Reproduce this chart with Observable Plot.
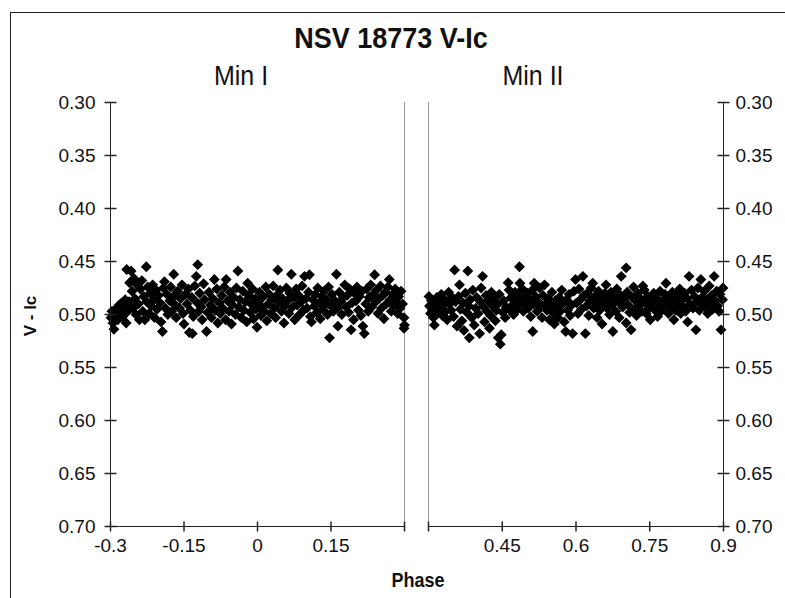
<!DOCTYPE html>
<html>
<head>
<meta charset="utf-8">
<script src="https://cdn.jsdelivr.net/npm/d3@7"></script>
<script src="https://cdn.jsdelivr.net/npm/@observablehq/plot@0.6"></script>
<style>
  html, body { margin: 0; padding: 0; background: #fff; }
  #wrap { position: relative; width: 785px; height: 598px; overflow: hidden; background: #fff;
          font-family: "Liberation Sans", Arial, sans-serif; color: #111; }
  #frame { position: absolute; left: 10px; top: 12px; width: 900px; height: 700px; border: 1px solid #222; box-sizing: border-box; }
  .t { position: absolute; white-space: nowrap; transform: translate(-50%, -50%) scaleY(1.12); line-height: 1; }
  .plot { position: absolute; top: 0; }
</style>
</head>
<body>
<div id="wrap">
  <div id="frame"></div>
  <div class="t" style="left:391px; top:38px; font-size:27px; font-weight:bold;">NSV 18773 V-Ic</div>
  <div class="t" style="left:241px; top:75px; font-size:25px;">Min I</div>
  <div class="t" style="left:533px; top:75px; font-size:25px;">Min II</div>
  <div class="t" style="left:418px; top:580px; font-size:18px; font-weight:bold;">Phase</div>
  <div class="t" style="left:30px; top:316px; font-size:17px; font-weight:bold; transform: translate(-50%, -50%) rotate(-90deg);">V - Ic</div>
  <div id="left" class="plot" style="left:0px;"></div>
  <div id="right" class="plot" style="left:412px;"></div>
</div>
<script>
// ---- tick values and labels ----
const yTicks = [0.30, 0.35, 0.40, 0.45, 0.50, 0.55, 0.60, 0.65, 0.70];
const minIxTicks = [-0.3, -0.15, 0, 0.15, 0.3];
const minIxLabels = ["-0.3", "-0.15", "0", "0.15", ""];
const minIIxTicks = [0.3, 0.45, 0.6, 0.75, 0.9];
const minIIxLabels = ["", "0.45", "0.6", "0.75", "0.9"];

// ---- Min I: phase, V-Ic ----
const minIPhase = [
-0.299,-0.297,-0.295,-0.293,-0.291,-0.288,-0.285,-0.282,
-0.279,-0.277,-0.275,-0.272,-0.270,-0.268,-0.267,-0.265,-0.262,-0.261,
-0.258,-0.256,-0.254,-0.252,-0.250,-0.248,-0.246,-0.243,-0.241,
-0.239,-0.236,-0.234,-0.232,-0.230,-0.227,-0.226,-0.224,-0.221,
-0.219,-0.217,-0.214,-0.212,-0.210,-0.207,-0.205,-0.202,
-0.199,-0.197,-0.194,-0.192,-0.190,-0.188,-0.185,-0.183,
-0.179,-0.177,-0.175,-0.172,-0.171,-0.168,-0.166,-0.163,
-0.159,-0.157,-0.154,-0.152,-0.150,-0.147,-0.144,-0.141,-0.139,
-0.137,-0.134,-0.133,-0.131,-0.128,-0.125,-0.123,-0.122,-0.120,
-0.118,-0.115,-0.113,-0.110,-0.108,-0.104,-0.102,
-0.099,-0.096,-0.094,-0.091,-0.088,-0.086,-0.083,-0.081,
-0.078,-0.076,-0.073,-0.071,-0.068,-0.065,-0.064,-0.061,
-0.058,-0.056,-0.053,-0.051,-0.048,-0.045,-0.043,-0.040,
-0.038,-0.036,-0.033,-0.030,-0.028,-0.025,-0.022,-0.020,
-0.018,-0.015,-0.013,-0.010,-0.008,-0.005,-0.003,-0.001,
0.002,0.004,0.007,0.009,0.012,0.014,0.017,0.019,
0.022,0.024,0.027,0.029,0.032,0.034,0.037,0.039,
0.0415,0.044,0.046,0.049,0.051,0.054,0.056,0.059,
0.061,0.064,0.066,0.069,0.071,0.074,0.076,0.079,
0.081,0.084,0.086,0.089,0.091,0.094,0.096,0.099,
0.101,0.104,0.106,0.108,0.110,0.113,0.116,0.118,
0.121,0.123,0.126,0.128,0.131,0.133,0.136,0.138,
0.141,0.143,0.145,0.147,0.150,0.152,0.155,0.158,
0.161,0.163,0.164,0.167,0.170,0.172,0.175,0.178,
0.181,0.183,0.186,0.188,0.191,0.193,0.196,0.198,
0.201,0.203,0.206,0.208,0.211,0.213,0.215,0.218,
0.221,0.223,0.226,0.228,0.231,0.233,0.236,0.239,
0.241,0.243,0.246,0.248,0.251,0.253,0.256,0.258,
0.261,0.263,0.266,0.269,0.271,0.273,0.276,0.278,
0.281,0.283,0.286,0.288,0.291,0.293,0.296,0.299,0.300,0.299
];
const minIVIc = [
0.503,0.497,0.508,0.514,0.499,0.494,0.505,0.491,
0.498,0.489,0.502,0.493,0.486,0.508,0.4575,0.497,0.488,0.470,
0.459,0.478,0.494,0.466,0.485,0.500,0.472,0.490,0.505,
0.476,0.468,0.497,0.483,0.505,0.455,0.488,0.474,0.499,
0.480,0.492,0.472,0.486,0.503,0.477,0.495,0.482,
0.489,0.507,0.516,0.475,0.469,0.494,0.481,0.500,
0.487,0.474,0.497,0.483,0.462,0.491,0.503,0.478,
0.494,0.485,0.472,0.499,0.509,0.481,0.490,0.476,0.517,
0.496,0.484,0.518,0.502,0.473,0.464,0.489,0.453,0.497,
0.480,0.493,0.505,0.471,0.486,0.516,0.498,
0.479,0.491,0.503,0.485,0.467,0.496,0.476,0.508,
0.489,0.499,0.482,0.494,0.474,0.505,0.467,0.487,
0.497,0.479,0.509,0.491,0.484,0.500,0.475,0.459,
0.493,0.486,0.503,0.478,0.496,0.488,0.507,0.4705,
0.482,0.498,0.490,0.476,0.504,0.485,0.495,0.512,
0.488,0.479,0.501,0.493,0.483,0.497,0.474,0.506,
0.490,0.481,0.499,0.486,0.473,0.494,0.503,0.482,
0.458,0.489,0.477,0.497,0.485,0.508,0.492,0.475,
0.487,0.499,0.480,0.462,0.493,0.484,0.505,0.476,
0.491,0.482,0.500,0.488,0.473,0.496,0.464,0.485,
0.494,0.479,0.4625,0.502,0.507,0.486,0.492,0.481,
0.498,0.475,0.489,0.504,0.483,0.495,0.478,0.491,
0.486,0.500,0.474,0.522,0.492,0.481,0.497,0.487,
0.462,0.494,0.511,0.479,0.488,0.500,0.484,0.472,
0.493,0.482,0.498,0.476,0.5145,0.489,0.505,0.480,
0.487,0.474,0.496,0.483,0.501,0.478,0.511,0.518,
0.490,0.476,0.497,0.484,0.472,0.493,0.481,0.4625,
0.488,0.477,0.499,0.485,0.473,0.494,0.482,0.504,
0.479,0.490,0.474,0.467,0.486,0.497,0.481,0.492,
0.476,0.488,0.499,0.483,0.494,0.478,0.490,0.503,0.510,0.513
];

// ---- Min II: phase, V-Ic ----
const minIIPhase = [
0.301,0.302,0.304,0.306,0.308,0.310,0.312,0.314,0.317,0.319,
0.321,0.323,0.326,0.328,0.330,0.333,0.335,0.338,
0.341,0.343,0.346,0.348,0.351,0.353,0.355,0.358,
0.361,0.363,0.365,0.368,0.370,0.372,0.375,0.378,
0.380,0.382,0.383,0.385,0.388,0.390,0.393,0.396,0.398,
0.401,0.404,0.406,0.407,0.410,0.412,0.414,0.417,0.419,
0.421,0.424,0.426,0.428,0.431,0.433,0.436,0.438,
0.442,0.446,0.448,0.441,0.444,0.451,0.453,0.456,0.458,
0.462,0.464,0.466,0.468,0.471,0.473,0.476,0.478,
0.481,0.483,0.485,0.486,0.488,0.491,0.493,0.496,0.498,
0.501,0.503,0.506,0.508,0.511,0.512,0.514,0.515,0.518,
0.521,0.523,0.526,0.528,0.531,0.533,0.536,0.538,
0.541,0.543,0.546,0.548,0.551,0.553,0.556,0.558,
0.561,0.563,0.566,0.568,0.571,0.573,0.576,0.579,
0.581,0.583,0.586,0.588,0.591,0.593,0.596,0.599,
0.601,0.604,0.606,0.609,0.611,0.614,0.616,0.619,
0.621,0.623,0.626,0.628,0.631,0.634,0.636,0.638,
0.641,0.643,0.646,0.648,0.651,0.653,0.656,0.659,
0.661,0.663,0.666,0.668,0.671,0.673,0.675,0.678,
0.681,0.683,0.686,0.688,0.691,0.692,0.695,0.698,
0.702,0.702,0.704,0.706,0.709,0.712,0.714,0.717,0.719,
0.721,0.723,0.726,0.728,0.731,0.734,0.736,0.739,
0.741,0.743,0.746,0.748,0.751,0.753,0.756,0.758,
0.761,0.763,0.766,0.768,0.771,0.773,0.776,0.779,
0.781,0.783,0.786,0.788,0.791,0.793,0.796,0.799,
0.801,0.803,0.806,0.808,0.811,0.813,0.816,0.818,
0.821,0.823,0.826,0.827,0.830,0.832,0.835,0.838,
0.841,0.844,0.846,0.848,0.851,0.854,0.856,0.858,
0.861,0.863,0.866,0.868,0.871,0.873,0.876,0.878,
0.881,0.883,0.886,0.888,0.891,0.893,0.895,0.898,0.899
];
const minIIVIc = [
0.483,0.492,0.499,0.487,0.496,0.503,0.510,0.490,0.484,0.498,
0.488,0.494,0.481,0.501,0.492,0.486,0.497,0.505,
0.479,0.490,0.496,0.484,0.502,0.458,0.488,0.511,
0.483,0.472,0.495,0.506,0.489,0.515,0.480,0.498,
0.459,0.492,0.522,0.486,0.503,0.477,0.510,0.494,0.484,
0.499,0.518,0.488,0.475,0.464,0.493,0.507,0.482,0.497,
0.487,0.513,0.501,0.479,0.492,0.485,0.506,0.496,
0.522,0.528,0.519,0.490,0.481,0.498,0.487,0.503,0.493,
0.470,0.477,0.496,0.484,0.491,0.500,0.479,0.488,
0.495,0.482,0.455,0.4705,0.489,0.476,0.497,0.485,0.491,
0.480,0.494,0.486,0.502,0.477,0.516,0.490,0.4705,0.483,
0.497,0.488,0.475,0.493,0.503,0.482,0.472,0.490,
0.496,0.485,0.505,0.492,0.479,0.498,0.509,0.487,
0.494,0.503,0.484,0.497,0.477,0.490,0.507,0.516,
0.486,0.496,0.481,0.501,0.491,0.518,0.478,0.467,
0.489,0.499,0.476,0.486,0.495,0.464,0.482,0.518,
0.492,0.480,0.501,0.487,0.475,0.4705,0.494,0.483,
0.490,0.503,0.478,0.496,0.485,0.509,0.491,0.480,
0.472,0.494,0.486,0.500,0.479,0.491,0.516,0.484,
0.497,0.476,0.488,0.503,0.482,0.464,0.493,0.485,
0.456,0.508,0.479,0.491,0.498,0.5145,0.484,0.474,0.495,
0.487,0.501,0.480,0.492,0.485,0.497,0.473,0.477,
0.489,0.499,0.483,0.494,0.505,0.486,0.491,0.480,
0.496,0.484,0.502,0.490,0.478,0.497,0.487,0.493,
0.481,0.4705,0.489,0.499,0.484,0.494,0.479,0.505,
0.488,0.496,0.482,0.491,0.476,0.499,0.486,0.493,
0.480,0.497,0.485,0.507,0.464,0.490,0.477,0.494,
0.483,0.5145,0.488,0.475,0.496,0.467,0.484,0.491,
0.478,0.493,0.486,0.499,0.473,0.489,0.482,0.495,
0.464,0.487,0.478,0.492,0.497,0.481,0.5145,0.486,0.475
];

const minI = minIPhase.map((p, i) => ({phase: p, vic: minIVIc[i]}));
const minII = minIIPhase.map((p, i) => ({phase: p, vic: minIIVIc[i]}));

// cross-tick symbols (pixel geometry is style, not data)
const hTick = {draw(ctx) { ctx.moveTo(-6, 0); ctx.lineTo(6, 0); }};
const vTick = {draw(ctx) { ctx.moveTo(0, -5); ctx.lineTo(0, 5); }};

const font = {fontFamily: "'Liberation Sans', Arial, sans-serif", fontSize: "19px", color: "#111", background: "transparent", overflow: "visible"};
const axisColor = "#222";
const sepColor = "#9a9a9a";
const fmtY = d3.format(".2f");
const markerR = 4.9;

const left = Plot.plot({
  width: 416, height: 598,
  marginLeft: 110, marginRight: 12, marginTop: 102, marginBottom: 72,
  style: font,
  x: {domain: [minIxTicks[0], minIxTicks[minIxTicks.length - 1]]},
  y: {domain: [yTicks[0], yTicks[yTicks.length - 1]], reverse: true},
  marks: [
    Plot.ruleX([minIxTicks[minIxTicks.length - 1]], {stroke: sepColor}),
    Plot.dot(minI, {x: "phase", y: "vic", symbol: "diamond2", r: markerR, fill: "#000", stroke: "none"}),
    Plot.ruleX([minIxTicks[0]], {stroke: axisColor}),
    Plot.ruleY([yTicks[yTicks.length - 1]], {stroke: axisColor}),
    Plot.axisY(yTicks, {anchor: "left", tickSize: 0, tickPadding: 15, tickFormat: fmtY, label: null, fontSize: 19}),
    Plot.axisX(minIxTicks, {anchor: "bottom", tickSize: 0, tickPadding: 12, tickFormat: d => minIxLabels[minIxTicks.indexOf(d)], label: null, fontSize: 19}),
    Plot.dot(yTicks, {x: () => minIxTicks[0], y: d => d, symbol: hTick, stroke: axisColor, fill: "none"}),
    Plot.dot(minIxTicks, {x: d => d, y: () => yTicks[yTicks.length - 1], symbol: vTick, stroke: axisColor, fill: "none"})
  ]
});
document.getElementById("left").append(left);

const right = Plot.plot({
  width: 373, height: 598,
  marginLeft: 16, marginRight: 62, marginTop: 102, marginBottom: 72,
  style: font,
  x: {domain: [minIIxTicks[0], minIIxTicks[minIIxTicks.length - 1]]},
  y: {domain: [yTicks[0], yTicks[yTicks.length - 1]], reverse: true},
  marks: [
    Plot.ruleX([minIIxTicks[0]], {stroke: sepColor}),
    Plot.dot(minII, {x: "phase", y: "vic", symbol: "diamond2", r: markerR, fill: "#000", stroke: "none"}),
    Plot.ruleX([minIIxTicks[minIIxTicks.length - 1]], {stroke: axisColor}),
    Plot.ruleY([yTicks[yTicks.length - 1]], {stroke: axisColor}),
    Plot.axisY(yTicks, {anchor: "right", tickSize: 0, tickPadding: 12, tickFormat: fmtY, label: null, fontSize: 19}),
    Plot.axisX(minIIxTicks, {anchor: "bottom", tickSize: 0, tickPadding: 12, tickFormat: d => minIIxLabels[minIIxTicks.indexOf(d)], label: null, fontSize: 19}),
    Plot.dot(yTicks, {x: () => minIIxTicks[minIIxTicks.length - 1], y: d => d, symbol: hTick, stroke: axisColor, fill: "none"}),
    Plot.dot(minIIxTicks, {x: d => d, y: () => yTicks[yTicks.length - 1], symbol: vTick, stroke: axisColor, fill: "none"})
  ]
});
document.getElementById("right").append(right);
</script>
</body>
</html>
